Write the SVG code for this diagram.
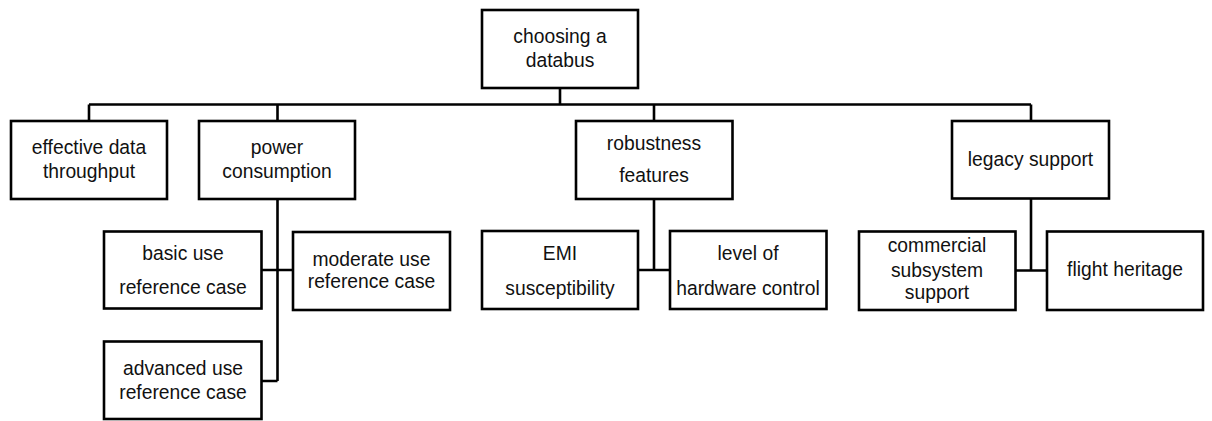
<svg xmlns="http://www.w3.org/2000/svg" width="1212" height="421" viewBox="0 0 1212 421">
<style>
.box{fill:#fff;stroke:#000;stroke-width:2.6}
.lbl{font-family:"Liberation Sans",Arial,sans-serif;font-size:19.3px;fill:#111;text-anchor:middle}
.con{fill:none;stroke:#000;stroke-width:2.6}
</style>
<rect width="1212" height="421" fill="#fff"/>
<g id="connectors">
<path class="con" d="M560 88V104.5M89 104.5H1031M89 104.5V121M277.5 104.5V121M654 104.5V121M1031 104.5V121"/>
<path class="con" d="M277.5 199V381M261.5 270H293M261.5 381H277.5"/>
<path class="con" d="M654 199V270M638 270H670"/>
<path class="con" d="M1031 198.5V270.5M1015.5 270.5H1047"/>
</g>
<g id="root"><rect class="box" x="482" y="10" width="156" height="78"/><text class="lbl" x="560" y="43">choosing a</text><text class="lbl" x="560" y="67">databus</text></g>
<g id="throughput"><rect class="box" x="11" y="121" width="156" height="78"/><text class="lbl" x="89" y="154">effective data</text><text class="lbl" x="89" y="177.5">throughput</text></g>
<g id="power"><rect class="box" x="199" y="121" width="156" height="78"/><text class="lbl" x="277" y="154">power</text><text class="lbl" x="277" y="178">consumption</text></g>
<g id="robustness"><rect class="box" x="576" y="121" width="156.5" height="78"/><text class="lbl" x="654" y="150">robustness</text><text class="lbl" x="654" y="182">features</text></g>
<g id="legacy"><rect class="box" x="952" y="121" width="157" height="77.5"/><text class="lbl" x="1030.5" y="166">legacy support</text></g>
<g id="basic"><rect class="box" x="104" y="231.5" width="157.5" height="77"/><text class="lbl" x="183" y="260">basic use</text><text class="lbl" x="183" y="293.5">reference case</text></g>
<g id="moderate"><rect class="box" x="293" y="232" width="157" height="78"/><text class="lbl" x="371.5" y="266">moderate use</text><text class="lbl" x="371.5" y="287.5">reference case</text></g>
<g id="advanced"><rect class="box" x="104" y="341.5" width="157.5" height="77.5"/><text class="lbl" x="183" y="375">advanced use</text><text class="lbl" x="183" y="398.5">reference case</text></g>
<g id="emi"><rect class="box" x="482" y="231" width="156" height="78"/><text class="lbl" x="560" y="260">EMI</text><text class="lbl" x="560" y="295">susceptibility</text></g>
<g id="hardware"><rect class="box" x="670" y="231" width="156.5" height="78"/><text class="lbl" x="748" y="260">level of</text><text class="lbl" x="748" y="295">hardware control</text></g>
<g id="commercial"><rect class="box" x="859" y="231.5" width="156.5" height="78.5"/><text class="lbl" x="937" y="252">commercial</text><text class="lbl" x="937" y="276.5">subsystem</text><text class="lbl" x="937" y="298.5">support</text></g>
<g id="flight"><rect class="box" x="1047" y="231.5" width="156" height="78.5"/><text class="lbl" x="1125" y="275.5">flight heritage</text></g>
</svg>
